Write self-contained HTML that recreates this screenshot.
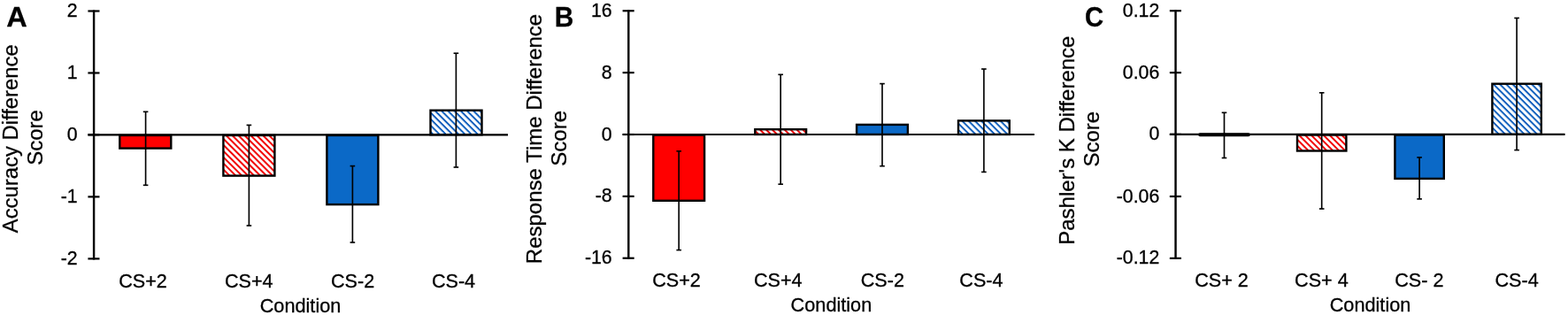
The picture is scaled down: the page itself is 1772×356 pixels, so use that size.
<!DOCTYPE html>
<html><head><meta charset="utf-8"><title>Figure</title>
<style>
html,body{margin:0;padding:0;background:#fff;}
body{width:1772px;height:356px;overflow:hidden;}
svg{display:block;font-family:"Liberation Sans", Arial, Helvetica, sans-serif;fill:#000;}
text{stroke:#000;stroke-width:0.3px;}
text.b{font-weight:bold;stroke-width:0.25px;}
</style></head>
<body>
<svg width="1772" height="356" viewBox="0 0 1772 356">
<defs>
<pattern id="hrA" width="4.9" height="4.9" patternUnits="userSpaceOnUse" patternTransform="rotate(45)">
<rect width="4.9" height="4.9" fill="#fff"/><rect width="4.9" height="2.0" fill="#f20000"/>
</pattern>
<pattern id="hrB" width="4.9" height="4.9" patternUnits="userSpaceOnUse" patternTransform="rotate(45)">
<rect width="4.9" height="4.9" fill="#fff"/><rect width="4.9" height="2.0" fill="#f20000"/>
</pattern>
<pattern id="hrC" width="4.9" height="4.9" patternUnits="userSpaceOnUse" patternTransform="rotate(45)">
<rect width="4.9" height="4.9" fill="#fff"/><rect width="4.9" height="2.0" fill="#f20000"/>
</pattern>
<pattern id="hb" width="5.1" height="5.1" patternUnits="userSpaceOnUse" patternTransform="rotate(45)">
<rect width="5.1" height="5.1" fill="#fff"/><rect width="5.1" height="1.95" fill="#0a5cbc"/>
</pattern>
</defs>
<rect width="1772" height="356" fill="#fff"/>
<rect x="135.30" y="152.95" width="58.00" height="14.65" fill="#ff0000" stroke="#000" stroke-width="2.4"/>
<rect x="252.40" y="152.95" width="58.00" height="45.65" fill="url(#hrA)" stroke="#000" stroke-width="2.4"/>
<rect x="369.40" y="152.95" width="58.00" height="78.15" fill="#0b69c7" stroke="#000" stroke-width="2.4"/>
<rect x="486.50" y="124.70" width="58.00" height="27.55" fill="url(#hb)" stroke="#000" stroke-width="2.4"/>
<line x1="106.1" y1="11.40" x2="106.1" y2="293.50" stroke="#000" stroke-width="2.4"/>
<line x1="99.40" y1="12.5" x2="112.50" y2="12.5" stroke="#000" stroke-width="2.2"/>
<text transform="translate(87.60,18.80) scale(1,1.02)" text-anchor="end" font-size="21.3">2</text>
<line x1="99.40" y1="82.45" x2="112.50" y2="82.45" stroke="#000" stroke-width="2.2"/>
<text transform="translate(87.60,88.75) scale(1,1.02)" text-anchor="end" font-size="21.3">1</text>
<line x1="99.40" y1="152.3" x2="112.50" y2="152.3" stroke="#000" stroke-width="2.2"/>
<text transform="translate(87.60,158.60) scale(1,1.02)" text-anchor="end" font-size="21.3">0</text>
<line x1="99.40" y1="222.4" x2="112.50" y2="222.4" stroke="#000" stroke-width="2.2"/>
<text transform="translate(87.60,228.70) scale(1,1.02)" text-anchor="end" font-size="21.3">-1</text>
<line x1="99.40" y1="292.4" x2="112.50" y2="292.4" stroke="#000" stroke-width="2.2"/>
<text transform="translate(87.60,298.70) scale(1,1.02)" text-anchor="end" font-size="21.3">-2</text>
<line x1="99.40" y1="152.3" x2="574" y2="152.3" stroke="#000" stroke-width="2.2"/>
<line x1="164.6" y1="126.3" x2="164.6" y2="209.3" stroke="#000" stroke-width="1.65"/>
<line x1="161.80" y1="126.3" x2="167.40" y2="126.3" stroke="#000" stroke-width="1.65"/>
<line x1="161.80" y1="209.3" x2="167.40" y2="209.3" stroke="#000" stroke-width="1.65"/>
<line x1="281.4" y1="141.4" x2="281.4" y2="255" stroke="#000" stroke-width="1.65"/>
<line x1="278.60" y1="141.4" x2="284.20" y2="141.4" stroke="#000" stroke-width="1.65"/>
<line x1="278.60" y1="255" x2="284.20" y2="255" stroke="#000" stroke-width="1.65"/>
<line x1="398.4" y1="187.6" x2="398.4" y2="274" stroke="#000" stroke-width="1.65"/>
<line x1="395.60" y1="187.6" x2="401.20" y2="187.6" stroke="#000" stroke-width="1.65"/>
<line x1="395.60" y1="274" x2="401.20" y2="274" stroke="#000" stroke-width="1.65"/>
<line x1="515.4" y1="60.2" x2="515.4" y2="189" stroke="#000" stroke-width="1.65"/>
<line x1="512.60" y1="60.2" x2="518.20" y2="60.2" stroke="#000" stroke-width="1.65"/>
<line x1="512.60" y1="189" x2="518.20" y2="189" stroke="#000" stroke-width="1.65"/>
<text transform="translate(161.50,324.95) scale(1,1.045)" text-anchor="middle" font-size="21.6">CS+2</text>
<text transform="translate(281.20,324.95) scale(1,1.045)" text-anchor="middle" font-size="21.6">CS+4</text>
<text transform="translate(398.60,324.95) scale(1,1.045)" text-anchor="middle" font-size="21.6">CS-2</text>
<text transform="translate(512.50,324.95) scale(1,1.045)" text-anchor="middle" font-size="21.6">CS-4</text>
<text transform="translate(339.50,352.70) scale(1,1.04)" text-anchor="middle" font-size="21.7">Condition</text>
<text transform="translate(20.4,156.8) rotate(-90) scale(1,1.0)" text-anchor="middle" font-size="23.85">Accuracy Difference</text>
<text transform="translate(47.8,155.4) rotate(-90) scale(1,1.0)" text-anchor="middle" font-size="24">Score</text>
<text transform="translate(7.3,30.1) scale(1.05,1.02)" font-size="31" class="b">A</text>
<rect x="738.30" y="152.65" width="57.80" height="74.15" fill="#ff0000" stroke="#000" stroke-width="2.4"/>
<rect x="853.30" y="146.20" width="57.80" height="5.75" fill="url(#hrB)" stroke="#000" stroke-width="2.4"/>
<rect x="968.10" y="140.90" width="57.80" height="11.05" fill="#0b69c7" stroke="#000" stroke-width="2.4"/>
<rect x="1083.00" y="136.40" width="57.80" height="15.55" fill="url(#hb)" stroke="#000" stroke-width="2.4"/>
<line x1="710.3" y1="11.15" x2="710.3" y2="292.85" stroke="#000" stroke-width="2.4"/>
<line x1="703.60" y1="12.25" x2="716.70" y2="12.25" stroke="#000" stroke-width="2.2"/>
<text transform="translate(691.70,18.75) scale(1,1.02)" text-anchor="end" font-size="21.3">16</text>
<line x1="703.60" y1="82.1" x2="716.70" y2="82.1" stroke="#000" stroke-width="2.2"/>
<text transform="translate(691.70,88.60) scale(1,1.02)" text-anchor="end" font-size="21.3">8</text>
<line x1="703.60" y1="152.0" x2="716.70" y2="152.0" stroke="#000" stroke-width="2.2"/>
<text transform="translate(691.70,158.50) scale(1,1.02)" text-anchor="end" font-size="21.3">0</text>
<line x1="703.60" y1="221.9" x2="716.70" y2="221.9" stroke="#000" stroke-width="2.2"/>
<text transform="translate(691.70,228.40) scale(1,1.02)" text-anchor="end" font-size="21.3">-8</text>
<line x1="703.60" y1="291.75" x2="716.70" y2="291.75" stroke="#000" stroke-width="2.2"/>
<text transform="translate(691.70,298.25) scale(1,1.02)" text-anchor="end" font-size="21.3">-16</text>
<line x1="703.60" y1="152.0" x2="1169" y2="152.0" stroke="#000" stroke-width="2.2"/>
<line x1="767.2" y1="170.8" x2="767.2" y2="282.6" stroke="#000" stroke-width="1.65"/>
<line x1="764.40" y1="170.8" x2="770.00" y2="170.8" stroke="#000" stroke-width="1.65"/>
<line x1="764.40" y1="282.6" x2="770.00" y2="282.6" stroke="#000" stroke-width="1.65"/>
<line x1="882.2" y1="84.3" x2="882.2" y2="208.2" stroke="#000" stroke-width="1.65"/>
<line x1="879.40" y1="84.3" x2="885.00" y2="84.3" stroke="#000" stroke-width="1.65"/>
<line x1="879.40" y1="208.2" x2="885.00" y2="208.2" stroke="#000" stroke-width="1.65"/>
<line x1="997.0" y1="94.6" x2="997.0" y2="187.7" stroke="#000" stroke-width="1.65"/>
<line x1="994.20" y1="94.6" x2="999.80" y2="94.6" stroke="#000" stroke-width="1.65"/>
<line x1="994.20" y1="187.7" x2="999.80" y2="187.7" stroke="#000" stroke-width="1.65"/>
<line x1="1111.9" y1="78" x2="1111.9" y2="194.4" stroke="#000" stroke-width="1.65"/>
<line x1="1109.10" y1="78" x2="1114.70" y2="78" stroke="#000" stroke-width="1.65"/>
<line x1="1109.10" y1="194.4" x2="1114.70" y2="194.4" stroke="#000" stroke-width="1.65"/>
<text transform="translate(764.50,323.95) scale(1,1.045)" text-anchor="middle" font-size="21.6">CS+2</text>
<text transform="translate(879.30,323.95) scale(1,1.045)" text-anchor="middle" font-size="21.6">CS+4</text>
<text transform="translate(997.30,323.95) scale(1,1.045)" text-anchor="middle" font-size="21.6">CS-2</text>
<text transform="translate(1108.90,323.95) scale(1,1.045)" text-anchor="middle" font-size="21.6">CS-4</text>
<text transform="translate(939.40,352.10) scale(1,1.04)" text-anchor="middle" font-size="21.7">Condition</text>
<text transform="translate(612,157.0) rotate(-90) scale(1,1.0)" text-anchor="middle" font-size="24">Response Time Difference</text>
<text transform="translate(639.8,156.3) rotate(-90) scale(1,1.0)" text-anchor="middle" font-size="24">Score</text>
<text transform="translate(626.8,30.1) scale(0.965,1.02)" font-size="31" class="b">B</text>
<line x1="1356.10" y1="152.25" x2="1410.90" y2="152.25" stroke="#000" stroke-width="3.9" stroke-linecap="round"/>
<rect x="1466.00" y="152.55" width="55.40" height="17.95" fill="url(#hrC)" stroke="#000" stroke-width="2.4"/>
<rect x="1576.40" y="152.55" width="55.40" height="49.35" fill="#0b69c7" stroke="#000" stroke-width="2.4"/>
<rect x="1686.40" y="94.70" width="55.40" height="57.15" fill="url(#hb)" stroke="#000" stroke-width="2.4"/>
<line x1="1328.55" y1="11.10" x2="1328.55" y2="293.00" stroke="#000" stroke-width="2.4"/>
<line x1="1321.85" y1="12.2" x2="1334.95" y2="12.2" stroke="#000" stroke-width="2.2"/>
<text transform="translate(1310.30,18.70) scale(1,1.02)" text-anchor="end" font-size="21.3">0.12</text>
<line x1="1321.85" y1="82.1" x2="1334.95" y2="82.1" stroke="#000" stroke-width="2.2"/>
<text transform="translate(1310.30,88.60) scale(1,1.02)" text-anchor="end" font-size="21.3">0.06</text>
<line x1="1321.85" y1="151.9" x2="1334.95" y2="151.9" stroke="#000" stroke-width="2.2"/>
<text transform="translate(1310.30,158.40) scale(1,1.02)" text-anchor="end" font-size="21.3">0</text>
<line x1="1321.85" y1="222" x2="1334.95" y2="222" stroke="#000" stroke-width="2.2"/>
<text transform="translate(1310.30,228.50) scale(1,1.02)" text-anchor="end" font-size="21.3">-0.06</text>
<line x1="1321.85" y1="291.9" x2="1334.95" y2="291.9" stroke="#000" stroke-width="2.2"/>
<text transform="translate(1310.30,298.40) scale(1,1.02)" text-anchor="end" font-size="21.3">-0.12</text>
<line x1="1321.85" y1="151.9" x2="1768.6" y2="151.9" stroke="#000" stroke-width="2.2"/>
<line x1="1383.5" y1="127.3" x2="1383.5" y2="178.5" stroke="#000" stroke-width="1.65"/>
<line x1="1380.70" y1="127.3" x2="1386.30" y2="127.3" stroke="#000" stroke-width="1.65"/>
<line x1="1380.70" y1="178.5" x2="1386.30" y2="178.5" stroke="#000" stroke-width="1.65"/>
<line x1="1493.7" y1="104.8" x2="1493.7" y2="236" stroke="#000" stroke-width="1.65"/>
<line x1="1490.90" y1="104.8" x2="1496.50" y2="104.8" stroke="#000" stroke-width="1.65"/>
<line x1="1490.90" y1="236" x2="1496.50" y2="236" stroke="#000" stroke-width="1.65"/>
<line x1="1604.1" y1="177.9" x2="1604.1" y2="224.9" stroke="#000" stroke-width="1.65"/>
<line x1="1601.30" y1="177.9" x2="1606.90" y2="177.9" stroke="#000" stroke-width="1.65"/>
<line x1="1601.30" y1="224.9" x2="1606.90" y2="224.9" stroke="#000" stroke-width="1.65"/>
<line x1="1714.1" y1="20.4" x2="1714.1" y2="169.6" stroke="#000" stroke-width="1.65"/>
<line x1="1711.30" y1="20.4" x2="1716.90" y2="20.4" stroke="#000" stroke-width="1.65"/>
<line x1="1711.30" y1="169.6" x2="1716.90" y2="169.6" stroke="#000" stroke-width="1.65"/>
<text transform="translate(1380.50,323.85) scale(1,1.045)" text-anchor="middle" font-size="21.6">CS+ 2</text>
<text transform="translate(1493.40,323.85) scale(1,1.045)" text-anchor="middle" font-size="21.6">CS+ 4</text>
<text transform="translate(1603.80,323.85) scale(1,1.045)" text-anchor="middle" font-size="21.6">CS- 2</text>
<text transform="translate(1714.10,323.85) scale(1,1.045)" text-anchor="middle" font-size="21.6">CS-4</text>
<text transform="translate(1548.50,352.10) scale(1,1.04)" text-anchor="middle" font-size="21.7">Condition</text>
<text transform="translate(1214.4,158.7) rotate(-90) scale(1,1.0)" text-anchor="middle" font-size="24">Pashler's K Difference</text>
<text transform="translate(1241.9,157.2) rotate(-90) scale(1,1.0)" text-anchor="middle" font-size="24">Score</text>
<text transform="translate(1226.1,30.2) scale(0.945,1.02)" font-size="31" class="b">C</text>
</svg>
</body></html>
